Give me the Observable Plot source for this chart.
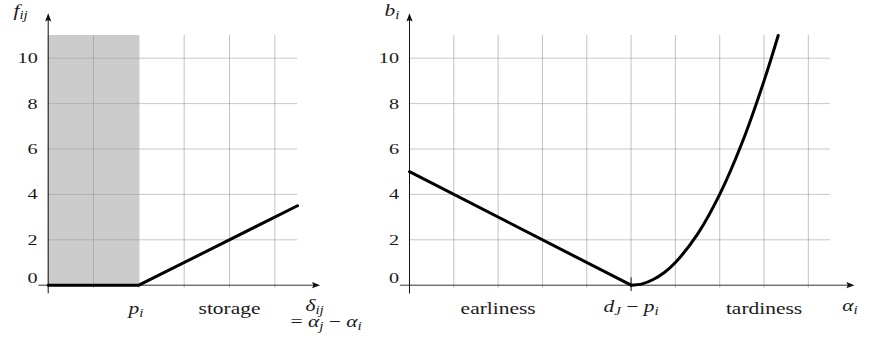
<!DOCTYPE html>
<html>
<head>
<meta charset="utf-8">
<script src="https://cdn.jsdelivr.net/npm/d3@7"></script>
<script src="https://cdn.jsdelivr.net/npm/@observablehq/plot@0.6"></script>
<style>
  html, body { margin: 0; padding: 0; background: #fff; }
  #chart { position: relative; width: 874px; height: 338px; overflow: hidden; }
  #chart svg { position: absolute; left: 0; top: 0; }
</style>
</head>
<body>
<div id="chart"></div>
<script>
// ---------- data ----------
const tickValues = [0, 2, 4, 6, 8, 10];
const gridYValues = [2, 4, 6, 8, 10];
const leftGridX = [1, 2, 3, 4, 5];
const rightGridX = [1, 2, 3, 4, 5, 6, 7, 8, 9];

// left panel: storage cost f_ij over delta_ij
const shadeDelta = [0, 2];          // infeasible region (before p_i)
const storageDelta = [0, 2, 5.5];
const storageCost = [0, 0, 3.5];

// right panel: earliness / tardiness cost b_i over alpha_i
const earlyAlpha = [0, 5];
const earlyCost = [5, 0];
const lateAlpha = [5, 5.25, 5.5, 5.75, 6, 6.5, 7, 7.5, 8, 8.32];
const lateCost = [0, 0.06, 0.25, 0.56, 1, 2.25, 4, 6.25, 9, 11];

// labels
const leftYLabel = "f_{ij}";
const rightYLabel = "b_{i}";
const leftXLabels = [
  {x: 1.77, y: -1.247, text: "p_{i}", anchor: "start", italic: true},
  {x: 4.0, y: -1.247, text: "storage", anchor: "middle", italic: false},
  {x: 5.676, y: -1.12, text: "δ_{ij}", anchor: "start", italic: true},
  {x: 5.345, y: -1.83, text: "= α_{j} − α_{i}", anchor: "start", italic: true}
];
const rightXLabels = [
  {x: 2, y: -1.247, text: "earliness", anchor: "middle", italic: false},
  {x: 5, y: -1.16, text: "d_{J} − p_{i}", anchor: "middle", italic: true},
  {x: 8, y: -1.247, text: "tardiness", anchor: "middle", italic: false},
  {x: 9.763, y: -1.118, text: "α_{i}", anchor: "start", italic: true}
];

// ---------- styling ----------
const W = 874, H = 338;
const FONT = "Liberation Serif";
const STRETCH = 1.3;   // reference glyphs are horizontally wide (Computer Modern look)
const INK = "#1a1a1a";
const yTop = 11;

const arrowUp = {draw(c) { c.moveTo(0, -4.5); c.lineTo(3.1, 3.6); c.lineTo(0, 2.2); c.lineTo(-3.1, 3.6); c.closePath(); }};
const arrowRight = {draw(c) { c.moveTo(4.5, 0); c.lineTo(-3.6, 3.1); c.lineTo(-2.2, 0); c.lineTo(-3.6, -3.1); c.closePath(); }};

function panel({xMax, marginLeft, marginRight, gridX, axisStart, axisEnd, arrowX, yLabelX, yLabel, xLabels, extra, shade}) {
  const marks = [];
  if (shade) {
    marks.push(Plot.rect([{x1: shade[0], x2: shade[1], y1: 0, y2: yTop}],
      {x1: "x1", x2: "x2", y1: "y1", y2: "y2", fill: "#cccccc"}));
  }
  // grid
  marks.push(Plot.ruleX(gridX.map(x => ({x, y1: -0.15, y2: yTop})),
    {x: "x", y1: "y1", y2: "y2", stroke: "#9a9a9a", strokeOpacity: 0.6, strokeWidth: 1}));
  marks.push(Plot.ruleY(gridYValues.map(y => ({y, x1: 0, x2: xMax})),
    {y: "y", x1: "x1", x2: "x2", stroke: "#9a9a9a", strokeOpacity: 0.55, strokeWidth: 1}));
  // axes
  marks.push(Plot.ruleY([{y: 0, x1: axisStart, x2: axisEnd}], {y: "y", x1: "x1", x2: "x2", stroke: "#333", strokeWidth: 1}));
  marks.push(Plot.ruleX([{x: 0, y1: -0.38, y2: 11.75}], {x: "x", y1: "y1", y2: "y2", stroke: "#111", strokeWidth: 1}));
  if (extra) marks.push(...extra);
  marks.push(Plot.dot([{x: 0, y: 11.78}], {x: "x", y: "y", symbol: arrowUp, r: 4, fill: "#111", stroke: "none"}));
  marks.push(Plot.dot([{x: arrowX, y: 0}], {x: "x", y: "y", symbol: arrowRight, r: 4, fill: "#111", stroke: "none"}));
  // tick labels
  const tl = tickValues.map(v => ({x: 0, y: v, label: String(v)}));
  marks.push(Plot.text(tl.filter(d => d.y !== 0), {x: "x", y: "y", text: "label", dx: -10.5, textAnchor: "end", lineAnchor: "middle", fontFamily: FONT, fontSize: 15.5, fill: INK}));
  marks.push(Plot.text(tl.filter(d => d.y === 0), {x: "x", y: "y", text: "label", dx: -10.5, dy: -7.5, textAnchor: "end", lineAnchor: "middle", fontFamily: FONT, fontSize: 15.5, fill: INK}));
  // y label
  marks.push(Plot.text([{x: yLabelX, y: 11.88, text: yLabel}], {x: "x", y: "y", text: "text", textAnchor: "start", lineAnchor: "bottom", fontFamily: FONT, fontSize: 16.5, fontStyle: "italic", fill: INK}));
  // x labels
  for (const italic of [true, false]) {
    for (const anchor of ["start", "middle"]) {
      const sel = xLabels.filter(d => d.italic === italic && d.anchor === anchor);
      if (sel.length) marks.push(Plot.text(sel, {x: "x", y: "y", text: "text", textAnchor: anchor, lineAnchor: "bottom", fontFamily: FONT, fontSize: 16.5, fontStyle: italic ? "italic" : "normal", fill: INK}));
    }
  }
  return Plot.plot({
    width: W, height: H,
    marginLeft, marginRight, marginTop: 35, marginBottom: 53.3,
    x: {domain: [0, xMax], axis: null},
    y: {domain: [0, yTop], axis: null},
    style: {background: "transparent", overflow: "visible"},
    marks
  });
}

const leftPlot = panel({
  xMax: 5.5, marginLeft: 47.7, marginRight: W - 297,
  gridX: leftGridX, axisStart: -0.207, axisEnd: 5.9, arrowX: 5.9,
  yLabelX: -0.766, yLabel: leftYLabel, xLabels: leftXLabels, shade: shadeDelta,
  extra: [
    Plot.line(storageDelta.map((d, i) => ({x: d, y: storageCost[i]})), {x: "x", y: "y", stroke: "#000", strokeWidth: 3})
  ]
});

const rightPlot = panel({
  xMax: 9.5, marginLeft: 409, marginRight: 44,
  gridX: rightGridX, axisStart: -0.2, axisEnd: 9.94, arrowX: 9.94,
  yLabelX: -0.564, yLabel: rightYLabel, xLabels: rightXLabels,
  extra: [
    Plot.ruleX([{x: 5, y1: -0.28, y2: 0.32}], {x: "x", y1: "y1", y2: "y2", stroke: "#111", strokeWidth: 1}),
    Plot.line(earlyAlpha.map((d, i) => ({x: d, y: earlyCost[i]})), {x: "x", y: "y", stroke: "#000", strokeWidth: 3}),
    Plot.line(lateAlpha.map((d, i) => ({x: d, y: lateCost[i]})), {x: "x", y: "y", stroke: "#000", strokeWidth: 3, curve: "catmull-rom"})
  ]
});

// turn "x_{sub}" markup into real SVG subscripts
const SUB_SHIFT = 3.5;
function mathify(svg) {
  const NS = "http://www.w3.org/2000/svg";
  for (const t of svg.querySelectorAll("text")) {
    const s = t.textContent;
    if (!/[_=−]/.test(s)) continue;
    while (t.firstChild) t.removeChild(t.firstChild);
    let i = 0, shifted = false, buf = "";
    const add = (str, attrs) => {
      const ts = document.createElementNS(NS, "tspan");
      ts.textContent = str;
      for (const k in attrs) ts.setAttribute(k, attrs[k]);
      t.appendChild(ts);
    };
    const flush = () => {
      if (!buf) return;
      const attrs = {};
      if (shifted) { attrs.dy = String(-SUB_SHIFT); shifted = false; }
      add(buf, attrs); buf = "";
    };
    while (i < s.length) {
      if (s.startsWith("_{", i)) {
        flush();
        const j = s.indexOf("}", i);
        const attrs = {"font-size": "11.5", dy: String(SUB_SHIFT)};
        if (shifted) attrs.dy = "0";
        add(s.slice(i + 2, j), attrs);
        shifted = true;
        i = j + 1;
      } else {
        const c = s[i];
        if (c === "=" || c === "−") {
          flush();
          const attrs = {"font-style": "normal"};
          if (shifted) { attrs.dy = String(-SUB_SHIFT); shifted = false; }
          add(c, attrs);
        } else {
          buf += c;
        }
        i++;
      }
    }
    flush();
  }
}
mathify(leftPlot);
mathify(rightPlot);

const chart = document.getElementById("chart");
chart.appendChild(leftPlot);
chart.appendChild(rightPlot);

// widen glyphs horizontally (Computer Modern proportions)
for (const svg of [leftPlot, rightPlot]) {
  for (const t of svg.querySelectorAll("text")) {
    const len = t.getComputedTextLength();
    if (len > 0) {
      t.setAttribute("textLength", (len * STRETCH).toFixed(2));
      t.setAttribute("lengthAdjust", "spacingAndGlyphs");
    }
  }
}
</script>
</body>
</html>
